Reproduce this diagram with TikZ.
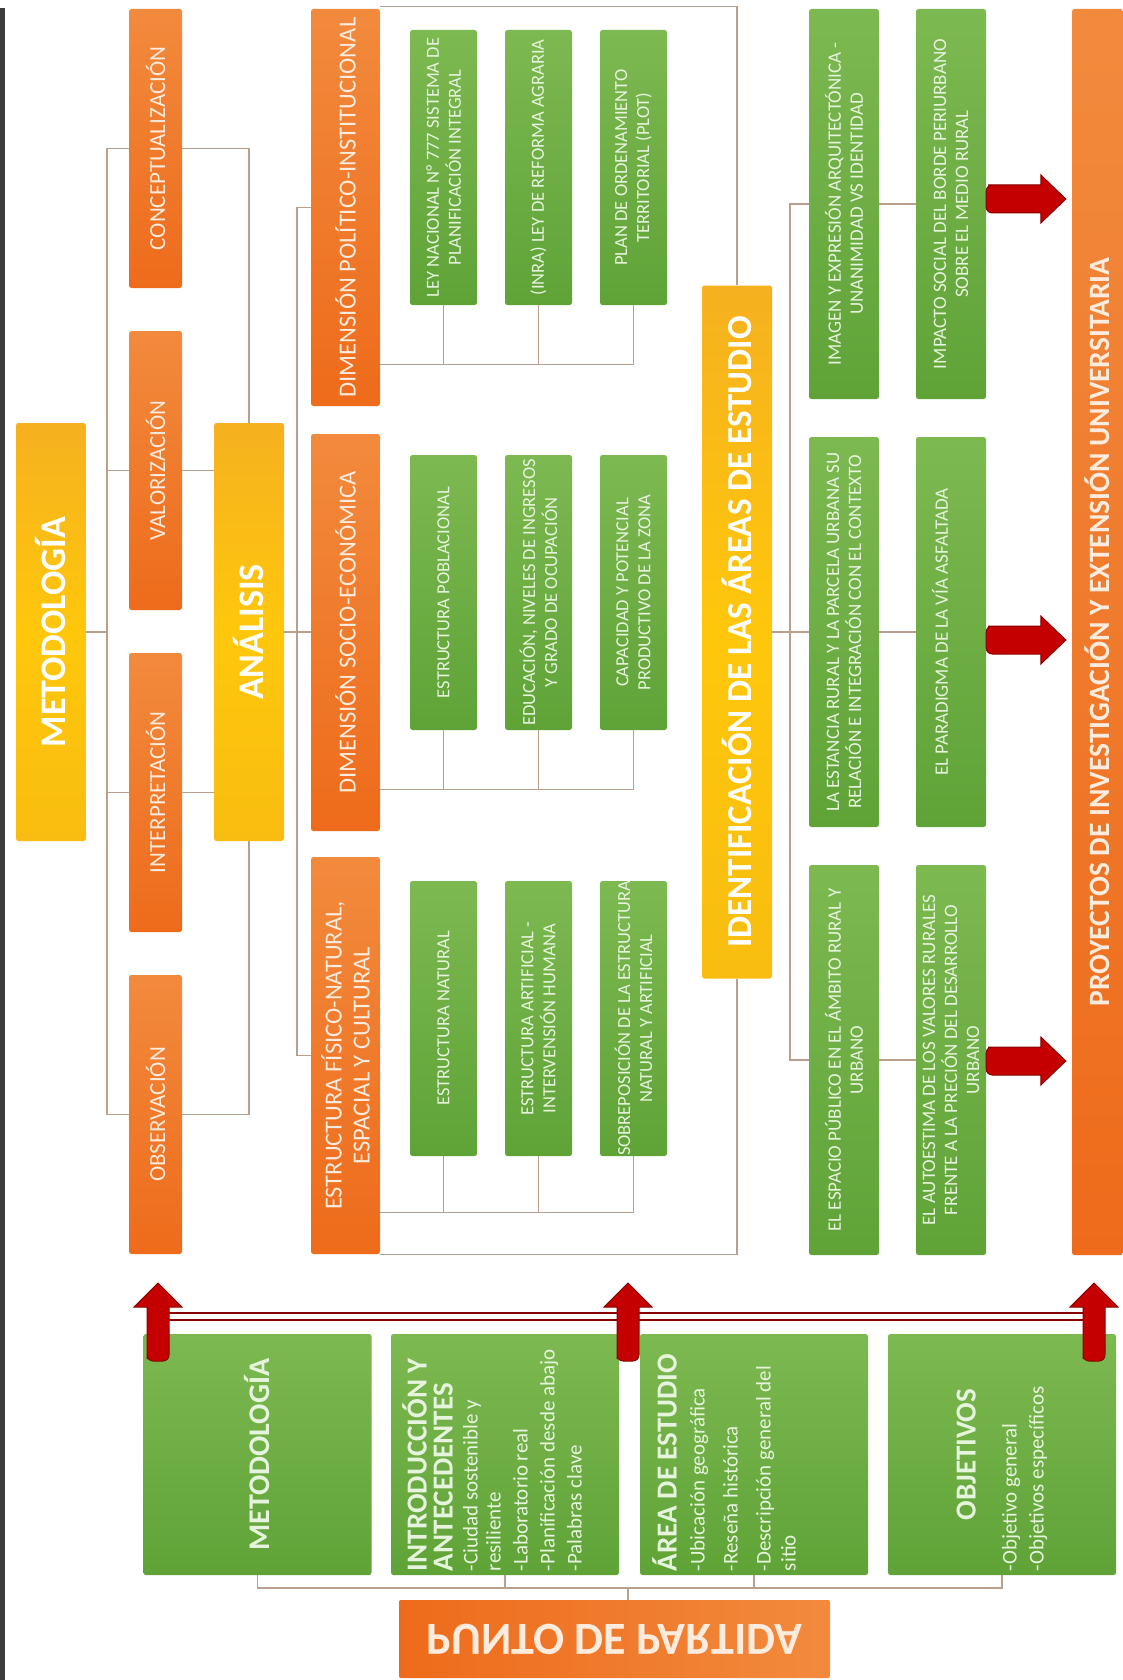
\documentclass[tikz,border=0pt]{standalone}
\usepackage{fontspec}
\setmainfont{Carlito}
\usepackage{graphicx}
\usetikzlibrary{calc}
\definecolor{orA}{HTML}{F28A3D}
\definecolor{orB}{HTML}{EE6B1B}
\definecolor{orT}{HTML}{FDEBDD}
\definecolor{grA}{HTML}{7DB951}
\definecolor{grB}{HTML}{5FA337}
\definecolor{grT}{HTML}{E6F3DD}
\definecolor{yeA}{HTML}{F5B11F}
\definecolor{yeM}{HTML}{FFC70C}
\definecolor{yeB}{HTML}{F8BD10}
\definecolor{lnC}{HTML}{B9A08E}
\definecolor{arR}{HTML}{C40000}
\definecolor{arD}{HTML}{8A0000}
\definecolor{barC}{HTML}{3C3C3C}
\tikzset{
 bx/.style={rotate=90, inner sep=0pt, rounded corners=2.5pt, align=flush center, execute at begin node={\setlength{\parindent}{0pt}\spaceskip=0pt\xspaceskip=0pt}},
 orb/.style={bx, top color=orA, bottom color=orB, text=orT},
 yb/.style={bx, top color=yeA, bottom color=yeB, middle color=yeM, text=white},
 gb/.style={bx, top color=grA, bottom color=grB, text=grT},
 ln/.style={draw=lnC, line width=1.3pt},
 redarr/.style={fill=arR, draw=arD, line width=1pt, line join=miter},
 sz/.style n args={3}{minimum width=#1, minimum height=#2, text width=#3},
 fB/.style={font=\fontsize{23}{27}\selectfont},
 fC/.style={font=\fontsize{24.5}{28}\selectfont},
 fG/.style={font=\fontsize{18.5}{22}\selectfont},
 fR/.style={font=\fontsize{19}{22}\selectfont},
}
\newcommand{\myrarrow}[2]{\filldraw[redarr] ($(#1)+(8,-14)$) -- ($(#2)+(-25,-14)$) -- ($(#2)+(-25,-24)$) -- (#2) -- ($(#2)+(-25,24)$) -- ($(#2)+(-25,14)$) -- ($(#1)+(8,14)$) [rounded corners=6pt] -- ($(#1)+(0,14)$) -- ($(#1)+(0,-14)$) -- cycle;}
\newcommand{\myuarrow}[2]{\filldraw[redarr] ($(#1)+(-11,-8)$) -- ($(#2)+(-11,24)$) -- ($(#2)+(-24,24)$) -- (#2) -- ($(#2)+(24,24)$) -- ($(#2)+(11,24)$) -- ($(#1)+(11,-8)$) [rounded corners=6pt] -- ($(#1)+(11,0)$) -- ($(#1)+(-11,0)$) -- cycle;}
\begin{document}
\begin{tikzpicture}[x=1pt,y=-1pt]
\useasboundingbox (0,0) rectangle (1123,1680);
\fill[white] (0,0) rectangle (1123,1680);
\fill[barC] (0,8) rectangle (5,1680);

% ---- column A / B
\node[yb, sz={418pt}{70pt}{410pt}, font=\bfseries\fontsize{36}{40}\selectfont] (METO) at (51,632) {METODOLOGÍA};
\node[orb, fB, sz={279pt}{53pt}{275pt}] (CONC) at (155.5,148.5) {CONCEPTUALIZACIÓN};
\node[orb, fB, sz={279pt}{53pt}{275pt}] (VAL) at (155.5,470.5) {VALORIZACIÓN};
\node[orb, fB, sz={279pt}{53pt}{275pt}] (INT) at (155.5,792.5) {INTERPRETACIÓN};
\node[orb, fB, sz={279pt}{53pt}{275pt}] (OBS) at (155.5,1114.5) {OBSERVACIÓN};
\node[yb, sz={418pt}{70pt}{410pt}, font=\bfseries\fontsize{36}{40}\selectfont] (ANA) at (249,632) {ANÁLISIS};

% ---- column C
\node[orb, fC, sz={397pt}{69pt}{393pt}] (POL) at (345.5,207.5) {DIMENSIÓN POLÍTICO-INSTITUCIONAL};
\node[orb, fC, sz={397pt}{69pt}{393pt}] (SOC) at (345.5,632.5) {DIMENSIÓN SOCIO-ECONÓMICA};
\node[orb, fC, sz={397pt}{69pt}{393pt}] (EST) at (345.5,1055.5) {ESTRUCTURA FÍSICO-NATURAL,\\ESPACIAL Y CULTURAL};

\node[gb, fG, sz={275pt}{67pt}{275pt}] (pa1) at (443.5,167.5) {LEY NACIONAL N° 777 SISTEMA DE\\PLANIFICACIÓN INTEGRAL};
\node[gb, fG, sz={275pt}{67pt}{275pt}] (pa2) at (538.5,167.5) {(INRA) LEY DE REFORMA AGRARIA};
\node[gb, fG, sz={275pt}{67pt}{275pt}] (pa3) at (633.5,167.5) {PLAN DE ORDENAMIENTO\\TERRITORIAL (PLOT)};
\node[gb, fG, sz={275pt}{67pt}{275pt}] (so1) at (443.5,592.5) {ESTRUCTURA POBLACIONAL};
\node[gb, fG, sz={275pt}{67pt}{275pt}] (so2) at (538.5,592.5) {EDUCACIÓN, NIVELES DE INGRESOS\\Y GRADO DE OCUPACIÓN};
\node[gb, fG, sz={275pt}{67pt}{275pt}] (so3) at (633.5,592.5) {CAPACIDAD Y POTENCIAL\\PRODUCTIVO DE LA ZONA};
\node[gb, fG, sz={275pt}{67pt}{275pt}] (es1) at (443.5,1018.5) {ESTRUCTURA NATURAL};
\node[gb, fG, sz={275pt}{67pt}{275pt}] (es2) at (538.5,1018.5) {ESTRUCTURA ARTIFICIAL -\\INTERVENSIÓN HUMANA};
\node[gb, fG, sz={275pt}{67pt}{275pt}] (es3) at (633.5,1018.5) {SOBREPOSICIÓN DE LA ESTRUCTURA\\NATURAL Y ARTIFICIAL};

% ---- identification
\node[yb, sz={693pt}{70pt}{685pt}, font=\bfseries\fontsize{35}{38}\selectfont] (ID) at (737,632) {IDENTIFICACIÓN DE LAS ÁREAS DE ESTUDIO};

\node[gb, fR, sz={390pt}{70pt}{386pt}] (d1) at (844,204) {IMAGEN Y EXPRESIÓN ARQUITECTÓNICA -\\UNANIMIDAD VS IDENTIDAD};
\node[gb, fR, sz={390pt}{70pt}{386pt}] (e1) at (951,204) {IMPACTO SOCIAL DEL BORDE PERIURBANO\\SOBRE EL MEDIO RURAL};
\node[gb, fR, sz={390pt}{70pt}{386pt}] (d2) at (844,632) {LA ESTANCIA RURAL Y LA PARCELA URBANA SU\\RELACIÓN E INTEGRACIÓN CON EL CONTEXTO};
\node[gb, fR, sz={390pt}{70pt}{386pt}] (e2) at (951,632) {EL PARADIGMA DE LA VÍA ASFALTADA\\\mbox{}};
\node[gb, fR, sz={390pt}{70pt}{386pt}] (d3) at (844,1060) {EL ESPACIO PÚBLICO EN EL ÁMBITO RURAL Y\\URBANO};
\node[gb, fR, sz={390pt}{70pt}{386pt}] (e3) at (951,1060) {EL AUTOESTIMA DE LOS VALORES RURALES\\FRENTE A LA PRECIÓN DEL DESARROLLO\\URBANO};

\node[orb, sz={1246pt}{51pt}{1200pt}, font=\bfseries\fontsize{29.5}{33}\selectfont] (PROY) at (1097.5,632) {PROYECTOS DE INVESTIGACIÓN Y EXTENSIÓN UNIVERSITARIA};

% ---- bottom row
\node[gb, sz={241pt}{228pt}{233pt}, font=\bfseries\fontsize{30}{34}\selectfont] (b1) at (257.5,1454.5) {METODOLOGÍA};
\node[gb, sz={241pt}{228pt}{233pt}, align=flush left] (b2) at (505,1454.5) {%
{\bfseries\fontsize{29}{26}\selectfont INTRODUCCIÓN Y\newline ANTECEDENTES\par}\vspace{2pt}%
{\fontsize{21}{23}\selectfont -Ciudad sostenible y\newline resiliente\par\vspace{4pt}%
-Laboratorio real\par\vspace{4pt}%
-Planificación desde abajo\par\vspace{4pt}%
-Palabras clave\par}\vspace*{26pt}};
\node[gb, sz={241pt}{228pt}{233pt}, align=flush left] (b3) at (754,1454.5) {%
{\bfseries\fontsize{29}{30}\selectfont ÁREA DE ESTUDIO\par}\vspace{3pt}%
{\fontsize{21}{25}\selectfont -Ubicación geográfica\par\vspace{8pt}%
-Reseña histórica\par\vspace{8pt}%
-Descripción general del\newline sitio\par}\vspace*{60pt}};
\node[gb, sz={241pt}{228pt}{233pt}, align=flush left] (b4) at (1002,1454.5) {%
{\centering\bfseries\fontsize{29}{30}\selectfont OBJETIVOS\par}\vspace{18pt}%
{\fontsize{21}{23}\selectfont -Objetivo general\par\vspace{4pt}%
-Objetivos específicos\par}};

\node[inner sep=0pt, rounded corners=2pt, minimum width=431pt, minimum height=78pt, left color=orB, right color=orA, text=orT, font=\bfseries\fontsize{46}{50}\selectfont] (PUNTO) at (614.5,1639) {\scalebox{1}[-1]{PUNTO DE PARTIDA}};

% ---- connectors
\coordinate (tL) at (107,632);
\draw[ln] (METO.south) -- (tL);
\draw[ln] (CONC.north) -| (tL);
\draw[ln] (OBS.north) -| (tL);
\draw[ln] (VAL.north) -- (VAL.north -| tL);
\draw[ln] (INT.north) -- (INT.north -| tL);

\draw[ln] (CONC.south) -| (ANA.east);
\draw[ln] (VAL.south) -- (VAL.south -| ANA.north);
\draw[ln] (INT.south) -- (INT.south -| ANA.north);
\draw[ln] (OBS.south) -| (ANA.west);

\coordinate (tA) at (297,632);
\draw[ln] (ANA.south) -- (ANA.south -| SOC.north);
\draw[ln] (POL.north) -| (tA);
\draw[ln] (EST.north) -| (tA);

\coordinate (bP) at ([yshift=42pt]POL.south west);
\draw[ln] (bP) -| (pa3.west);
\draw[ln] (pa1.west) -- (pa1.west |- bP);
\draw[ln] (pa2.west) -- (pa2.west |- bP);
\coordinate (bS) at ([yshift=42pt]SOC.south west);
\draw[ln] (bS) -| (so3.west);
\draw[ln] (so1.west) -- (so1.west |- bS);
\draw[ln] (so2.west) -- (so2.west |- bS);
\coordinate (bE) at ([yshift=42pt]EST.south west);
\draw[ln] (bE) -| (es3.west);
\draw[ln] (es1.west) -- (es1.west |- bE);
\draw[ln] (es2.west) -- (es2.west |- bE);

\draw[ln] ([yshift=2pt]POL.south east) -| (ID.east);
\draw[ln] (EST.south west) -| (ID.west);

\coordinate (tI) at (790,632);
\draw[ln] (ID.south) -- (ID.south -| d2.north);
\draw[ln] (d1.north) -| (tI);
\draw[ln] (d3.north) -| (tI);
\draw[ln] (d1.south) -- (e1.north);
\draw[ln] (d2.south) -- (e2.north);
\draw[ln] (d3.south) -- (e3.north);

\coordinate (bj) at (628,1588);
\draw[ln] (b1.west) |- (bj) -| (b4.west);
\draw[ln] (b2.west) -- (b2.west |- bj);
\draw[ln] (b3.west) -- (b3.west |- bj);
\draw[ln] (bj) -- (bj |- PUNTO.north);

% ---- red arrows
\coordinate (r1s) at ($(e1.south)+(0,-5)$);
\coordinate (r2s) at ($(e2.south)+(0,8)$);
\coordinate (r3s) at ($(e3.south)+(0,1)$);
\coordinate (r1) at ($(PROY.north |- r1s)+(-6,0)$);
\coordinate (r2) at ($(PROY.north |- r2s)+(-6,0)$);
\coordinate (r3) at ($(PROY.north |- r3s)+(-6,0)$);
\myrarrow{r1s}{r1}
\myrarrow{r2s}{r2}
\myrarrow{r3s}{r3}

\coordinate (u1t) at (158,1283);
\coordinate (u1b) at (158,1361);
\coordinate (u2t) at (628,1283);
\coordinate (u2b) at (628,1361);
\coordinate (u3t) at (1094,1283);
\coordinate (u3b) at (1094,1361);
\filldraw[fill=white, draw=arD, line width=1.4pt] ($(u1t)+(0,30)$) rectangle ($(u3t)+(0,37)$);
\myuarrow{u1b}{u1t}
\myuarrow{u2b}{u2t}
\myuarrow{u3b}{u3t}
\end{tikzpicture}
\end{document}
